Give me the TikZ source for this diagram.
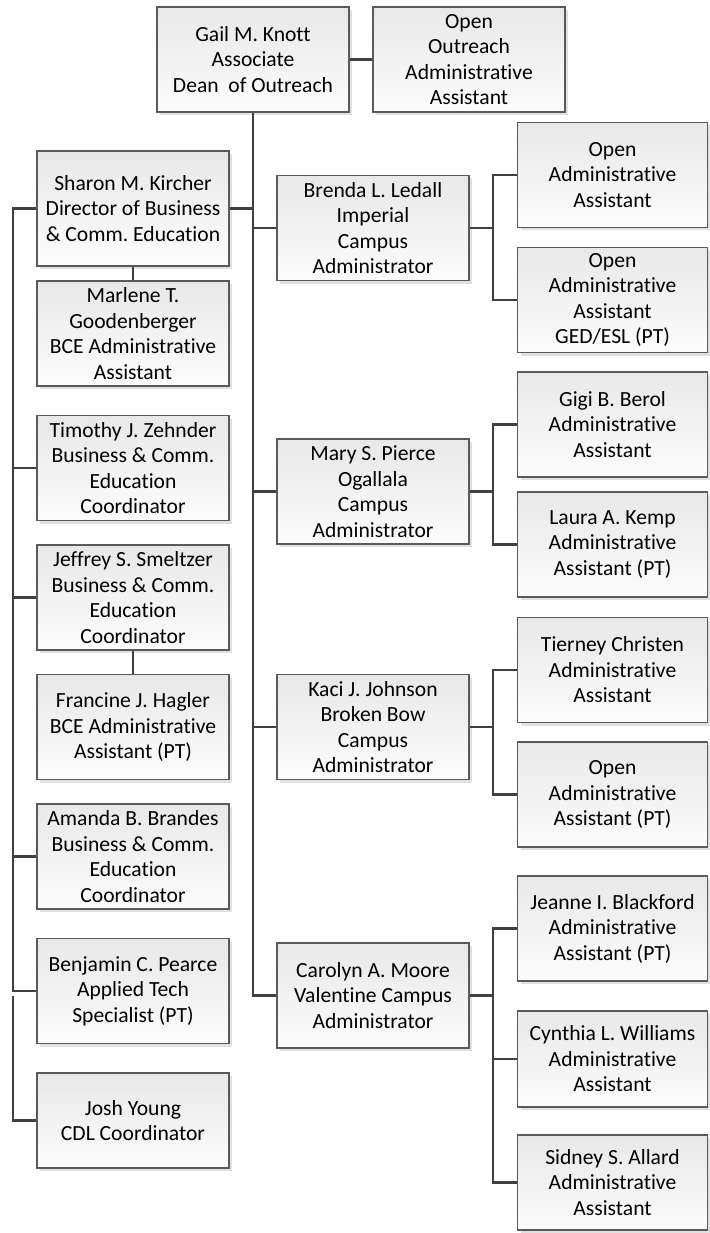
\documentclass[tikz,border=0pt]{standalone}
\usepackage{fontspec}
\setmainfont[Ligatures={NoCommon}]{Carlito}
\usetikzlibrary{shadows,calc}
\definecolor{boxline}{HTML}{5A5A5A}
\definecolor{conn}{HTML}{404040}
\tikzset{
  orgbox/.style={draw=boxline, line width=1.2pt, rectangle, inner sep=0pt,
    minimum width=192pt, minimum height=105pt, align=center,
    top color=black!9, bottom color=black!1,
    font=\fontsize{21.6}{25.5}\selectfont,
    drop shadow={shadow xshift=3pt, shadow yshift=-3pt, fill=black!12, opacity=1}},
  link/.style={draw=conn, line width=2.4pt}
}
\begin{document}
\frenchspacing
\begin{tikzpicture}[x=1pt,y=-1pt]
\useasboundingbox (0,0) rectangle (709,1233);
\coordinate (lx) at (13,0);
\coordinate (bx) at (493,0);
% top
\node[orgbox] (gail) at (253,59.5) {Gail M. Knott\\ Associate\\Dean\ \ of Outreach};
\node[orgbox] (openout) at (469,59.5) {Open\\ Outreach\\Administrative\\Assistant};
% left column
\node[orgbox, minimum height=115pt] (sharon) at (133,208.5) {Sharon M. Kircher\\Director of Business\\\& Comm. Education};
\node[orgbox] (marlene) at (133,333.5) {Marlene T.\\Goodenberger\\BCE Administrative\\Assistant};
\node[orgbox] (timothy) at (133,468) {Timothy J. Zehnder\\ Business \& Comm.\\Education\\Coordinator};
\node[orgbox] (jeffrey) at (133,597.5) {Jeffrey S. Smeltzer\\Business \& Comm.\\Education\\Coordinator};
\node[orgbox] (francine) at (133,727) {Francine J. Hagler\\BCE Administrative\\Assistant (PT)};
\node[orgbox] (amanda) at (133,856.5) {Amanda B. Brandes\\Business \& Comm.\\Education\\Coordinator};
\node[orgbox] (benjamin) at (133,991) {Benjamin C. Pearce\\ Applied Tech\\Specialist (PT)};
\node[orgbox, minimum height=95pt] (josh) at (133,1120.5) {Josh Young\\CDL Coordinator};
% middle column
\node[orgbox] (brenda) at (373,228) {Brenda L. Ledall\\Imperial\\Campus\\Administrator};
\node[orgbox] (mary) at (373,491.5) {Mary S. Pierce\\Ogallala\\Campus\\Administrator};
\node[orgbox] (kaci) at (373,727) {Kaci J. Johnson\\Broken Bow\\Campus\\Administrator};
\node[orgbox] (carolyn) at (373,995.5) {Carolyn A. Moore\\Valentine Campus\\Administrator};
% right column
\node[orgbox, minimum width=190pt] (openaa) at (612.5,175) {Open\\Administrative\\Assistant};
\node[orgbox, minimum width=190pt] (openged) at (612.5,300) {Open\\Administrative\\Assistant\\GED/ESL (PT)};
\node[orgbox, minimum width=190pt] (gigi) at (612.5,424.5) {Gigi B. Berol\\Administrative\\Assistant};
\node[orgbox, minimum width=190pt] (laura) at (612.5,544.5) {Laura A. Kemp\\Administrative\\Assistant (PT)};
\node[orgbox, minimum width=190pt] (tierney) at (612.5,670) {Tierney Christen\\Administrative\\Assistant};
\node[orgbox, minimum width=190pt] (openpt) at (612.5,794.5) {Open\\Administrative\\Assistant (PT)};
\node[orgbox, minimum width=190pt] (jeanne) at (612.5,928.5) {Jeanne I. Blackford\\Administrative\\Assistant (PT)};
\node[orgbox, minimum width=190pt, minimum height=96pt] (cynthia) at (612.5,1059) {Cynthia L. Williams\\Administrative\\Assistant};
\node[orgbox, minimum width=190pt, minimum height=95pt] (sidney) at (612.5,1182.5) {Sidney S. Allard\\Administrative\\Assistant};
% connectors
\draw[link] (gail.east) -- (openout.west);
\draw[link] (gail.south) |- (carolyn.west);
\draw[link] (sharon.east) -- (sharon.east -| gail.south);
\draw[link] (brenda.west -| gail.south) -- (brenda.west);
\draw[link] (mary.west -| gail.south) -- (mary.west);
\draw[link] (kaci.west -| gail.south) -- (kaci.west);
% left trunk
\draw[link] (sharon.west) -- (sharon.west -| lx) |- (benjamin.west);
\draw[link] (timothy.west -| lx) -- (timothy.west);
\draw[link] (jeffrey.west -| lx) -- (jeffrey.west);
\draw[link] (amanda.west -| lx) -- (amanda.west);
\coordinate (lj) at (13,996);
\draw[link] (lj) |- (josh.west);
\draw[link] (sharon.south) -- (marlene.north);
\draw[link] (jeffrey.south) -- (francine.north);
% brackets
\draw[link] (brenda.east) -- (brenda.east -| bx);
\draw[link] (openaa.west) -| (bx |- openged.west) -- (openged.west);
\draw[link] (mary.east) -- (mary.east -| bx);
\draw[link] (gigi.west) -| (bx |- laura.west) -- (laura.west);
\draw[link] (kaci.east) -- (kaci.east -| bx);
\draw[link] (tierney.west) -| (bx |- openpt.west) -- (openpt.west);
\draw[link] (carolyn.east) -- (carolyn.east -| bx);
\draw[link] (jeanne.west) -| (bx |- sidney.west) -- (sidney.west);
\draw[link] (cynthia.west -| bx) -- (cynthia.west);
\end{tikzpicture}
\end{document}
